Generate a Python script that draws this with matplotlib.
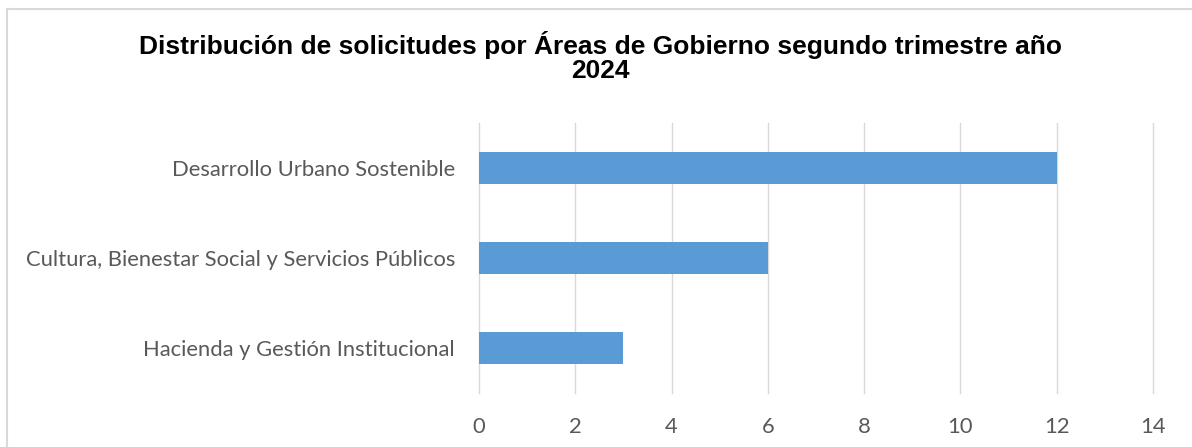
import matplotlib
matplotlib.use("Agg")
import matplotlib.pyplot as plt
from matplotlib.lines import Line2D

categories = ["Hacienda y Gestión Institucional",
              "Cultura, Bienestar Social y Servicios Públicos",
              "Desarrollo Urbano Sostenible"]
values = [3, 6, 12]
xticks = [0, 2, 4, 6, 8, 10, 12, 14]
title = "Distribución de solicitudes por Áreas de Gobierno segundo trimestre año\n2024"

W, H = 1192, 447
fig = plt.figure(figsize=(W / 100, H / 100), dpi=100)
ax = fig.add_axes([479 / W, 1 - 393 / H, (1153 - 479) / W, (393 - 123) / H])

ypos = list(range(len(categories)))
ax.barh(ypos, values, height=0.345, color="#5B9BD5", zorder=3)
ax.set_xlim(0, 14)
ax.set_ylim(-0.5, len(categories) - 0.5)
ax.set_xticks(xticks)
ax.set_xticklabels([str(t) for t in xticks])
ax.set_yticks(ypos)
ax.set_yticklabels(categories)
ax.grid(axis="x", color="#D9D9D9", linewidth=1.0, zorder=0)
for gl in ax.get_xgridlines():
    gl.set_clip_on(False)
for s in ax.spines.values():
    s.set_visible(False)
ax.tick_params(axis="both", length=0, labelcolor="#595959")
ax.tick_params(axis="x", pad=17)
ax.tick_params(axis="y", pad=17.3)
for lab in ax.get_xticklabels() + ax.get_yticklabels():
    lab.set_fontfamily("Lato")
    lab.set_fontsize(15.8)

fig.text(600 / W, 1 - 57 / H, title, ha="center", va="center",
         fontsize=19, fontweight="bold", family="Liberation Sans",
         linespacing=1.0, color="black")

fig.add_artist(Line2D([7.5 / W, 7.5 / W], [0, 1 - 8.5 / H],
                      transform=fig.transFigure, color="#D9D9D9", linewidth=1.5))
fig.add_artist(Line2D([7.5 / W, 1.0], [1 - 8.5 / H, 1 - 8.5 / H],
                      transform=fig.transFigure, color="#D9D9D9", linewidth=1.5))

fig.savefig("out.png", dpi=100)
